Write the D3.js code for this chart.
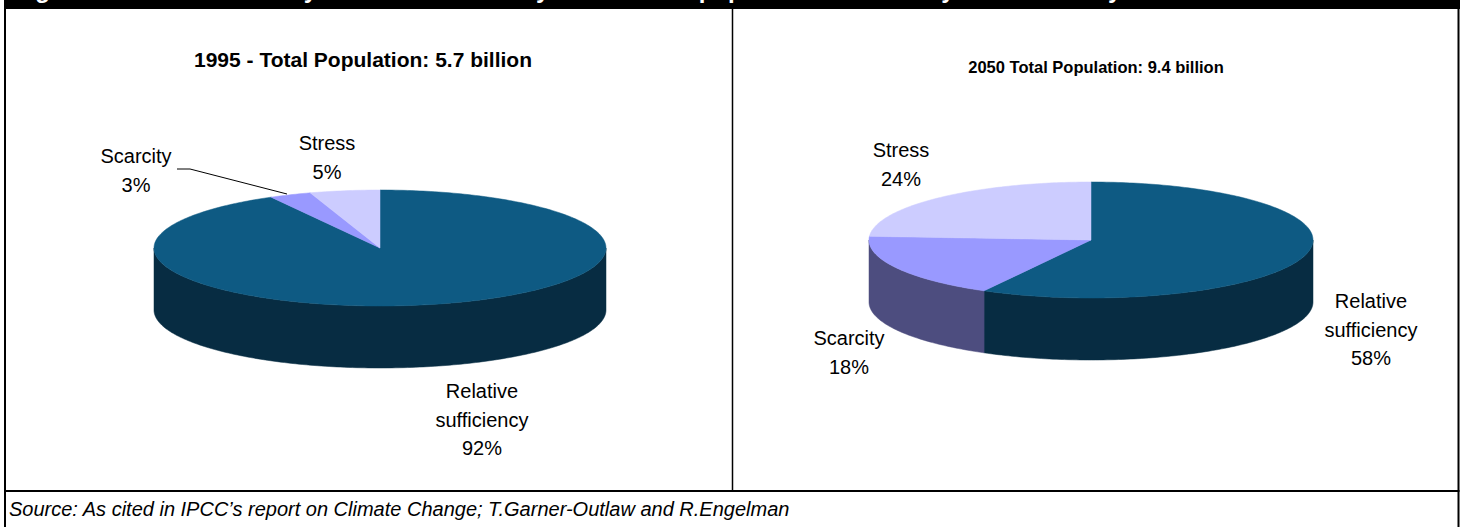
<!DOCTYPE html>
<html>
<head>
<meta charset="utf-8">
<script src="https://cdn.jsdelivr.net/npm/d3@7"></script>
<style>
  html, body { margin: 0; padding: 0; background: #fff; }
  svg { display: block; }
  text { font-family: Arial, "Liberation Sans", sans-serif; fill: #000; }
</style>
</head>
<body>
<svg id="chart" width="1462" height="527"></svg>
<script>
// ---- data ----
const categories = ["Relative sufficiency", "Scarcity", "Stress"];
const shares1995 = [92, 3, 5];
const shares2050 = [58, 18, 24];
const panelTitles = ["1995 - Total Population: 5.7 billion", "2050 Total Population: 9.4 billion"];
const figureTitle = "Figure 2: Water availability in 1995 and 2050 by share of the population affected by water scarcity";
const sourceNote = "Source: As cited in IPCC\u2019s report on Climate Change; T.Garner-Outlaw and R.Engelman";

// ---- styling ----
const topColors  = ["#0e5a83", "#9999ff", "#ccccff"];
const sideColors = ["#072c42", "#4d4d7f", "#66667f"];

const panels = [
  { values: shares1995, title: panelTitles[0], titleX: 363, titleY: 67, titleSize: 21,
    cx: 380, cy: 248, rx: 226, ry: 58, depth: 62,
    labels: [
      { x: 482, y: 398 },
      { x: 136, y: 163, leader: [[177, 169], [190, 169], [287, 194]] },
      { x: 327, y: 150 }
    ] },
  { values: shares2050, title: panelTitles[1], titleX: 1096, titleY: 73, titleSize: 16.5,
    cx: 1091, cy: 240, rx: 222, ry: 58, depth: 62,
    labels: [
      { x: 1371, y: 308 },
      { x: 849, y: 345 },
      { x: 901, y: 157 }
    ] }
];

const svg = d3.select("#chart");
const W = 1462, H = 527;

// frame and figure heading bar
svg.append("rect").attr("x", 4).attr("y", 0).attr("width", 1456).attr("height", 9).attr("fill", "#000");
svg.append("text").attr("x", 14).attr("y", -2)
  .attr("font-size", 24).attr("font-weight", "bold").style("fill", "#fff")
  .text(figureTitle);

const frame = svg.append("g").attr("stroke", "#000").attr("fill", "none");
frame.append("line").attr("x1", 5).attr("x2", 5).attr("y1", 0).attr("y2", H).attr("stroke-width", 2);
frame.append("line").attr("x1", 1458.5).attr("x2", 1458.5).attr("y1", 0).attr("y2", H).attr("stroke-width", 2);
frame.append("line").attr("x1", 732.5).attr("x2", 732.5).attr("y1", 8).attr("y2", 491).attr("stroke-width", 1.5);
frame.append("line").attr("x1", 4).attr("x2", 1459.5).attr("y1", 491).attr("y2", 491).attr("stroke-width", 2);

svg.append("text").attr("x", 9).attr("y", 516)
  .attr("font-size", 20).attr("font-style", "italic")
  .text(sourceNote);

const pie = d3.pie().sort(null).value(d => d);
const line = d3.line();
const STEP = Math.PI / 180;

function samples(a, b) {
  const n = Math.max(2, Math.ceil((b - a) / STEP) + 1);
  return d3.range(n).map(i => a + (b - a) * i / (n - 1));
}

panels.forEach(p => {
  const g = svg.append("g");
  const pt = (t, dy = 0) => [p.cx + p.rx * Math.sin(t), p.cy - p.ry * Math.cos(t) + dy];
  const arcs = pie(p.values);

  // visible side walls (front half: angles between PI/2 and 3PI/2)
  arcs.forEach((a, i) => {
    const s = Math.max(a.startAngle, Math.PI / 2);
    const e = Math.min(a.endAngle, 3 * Math.PI / 2);
    if (e <= s) return;
    const ts = samples(s, e);
    const pts = ts.map(t => pt(t)).concat(ts.slice().reverse().map(t => pt(t, p.depth)));
    g.append("path").attr("d", line(pts) + "Z")
      .attr("fill", sideColors[i]).attr("stroke", sideColors[i]).attr("stroke-width", 0.5);
  });

  // top faces
  arcs.forEach((a, i) => {
    const ts = samples(a.startAngle, a.endAngle);
    const pts = [[p.cx, p.cy]].concat(ts.map(t => pt(t)));
    g.append("path").attr("d", line(pts) + "Z")
      .attr("fill", topColors[i]).attr("stroke", topColors[i]).attr("stroke-width", 0.5);
  });

  // panel title
  svg.append("text").attr("x", p.titleX).attr("y", p.titleY)
    .attr("text-anchor", "middle").attr("font-size", p.titleSize).attr("font-weight", "bold")
    .text(p.title);

  // slice labels
  arcs.forEach((a, i) => {
    const L = p.labels[i];
    const lines = categories[i] === "Relative sufficiency"
      ? ["Relative", "sufficiency", a.data + "%"]
      : [categories[i], a.data + "%"];
    const t = svg.append("text").attr("text-anchor", "middle").attr("font-size", 20);
    lines.forEach((s, k) => t.append("tspan").attr("x", L.x).attr("y", L.y + k * 28.5).text(s));
    if (L.leader) {
      svg.append("path").attr("d", line(L.leader))
        .attr("fill", "none").attr("stroke", "#000").attr("stroke-width", 1);
    }
  });
});
</script>
</body>
</html>
